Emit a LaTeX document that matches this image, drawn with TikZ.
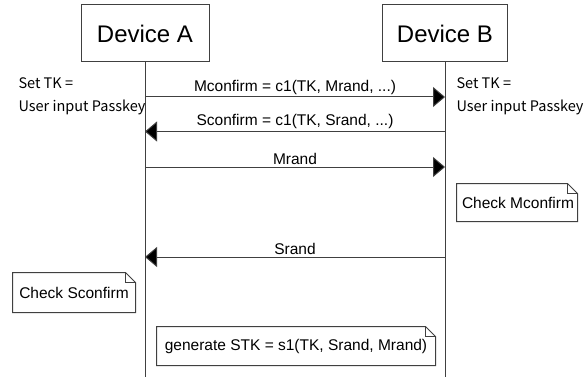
\documentclass[tikz,border=0pt]{standalone}
\usepackage{fontspec}
\setmainfont{Liberation Sans}
\newfontfamily\krfont{Noto Sans CJK KR}
\usetikzlibrary{arrows.meta}
\definecolor{lineclr}{gray}{0.25}
\begin{document}
\begin{tikzpicture}[x=1pt,y=-1pt,
  line width=1pt, draw=lineclr,
  device/.style={draw, minimum width=#1, minimum height=57pt, inner sep=0pt, font=\fontsize{24}{28}\selectfont},
  msg/.style={-{Triangle[length=12pt,width=20pt,fill=black]}},
  msglabel/.style={above, inner sep=2pt, font=\fontsize{15.5}{18}\selectfont},
  notebox/.style={minimum width=#1, minimum height=38pt, inner sep=0pt, font=\fontsize{15.5}{18}\selectfont},
  setnote/.style={anchor=west, inner sep=0pt, font=\krfont\fontsize{14.5}{17}\selectfont}]
\useasboundingbox (0,0) rectangle (585,377);

% participants and lifelines
\node[device=128pt] (A) at (145,33.5) {Device A};
\node[device=125pt] (B) at (445,33.5) {Device B};
\coordinate (Aend) at (145,377);
\coordinate (Bend) at (445,377);
\draw (A.south) -- (Aend);
\draw (B.south) -- (Bend);

% key setup text beside each lifeline
\node[setnote] (sa1) at (18,83) {Set TK =};
\node[setnote] (sa2) at (18,107) {User input Passkey};
\node[setnote] (sb1) at (456,83) {Set TK =};
\node[setnote] (sb2) at (456,107) {User input Passkey};

% message anchor points on the lifelines
\foreach \n/\y in {1/97, 2/131.5, 3/167, 4/257} {
  \coordinate (a\n) at (145,\y);
  \coordinate (b\n) at (445,\y);
}

\draw[msg] (a1) -- node[msglabel] {Mconfirm = c1(TK, Mrand, ...)} (b1);
\draw[msg] (b2) -- node[msglabel] {Sconfirm = c1(TK, Srand, ...)} (a2);
\draw[msg] (a3) -- node[msglabel] {Mrand} (b3);
\draw[msg] (b4) -- node[msglabel] {Srand} (a4);

% notes with folded corner
\node[notebox=120pt, minimum height=37pt] (cm) at (517,202.5) {};
\node[notebox=122pt, minimum height=39pt] (cs) at (74,292.5) {};
\node[notebox=278pt] (stk) at (296,346) {};
\foreach \n in {cm,cs,stk} {
  \draw[fill=white] (\n.south west) -- (\n.north west) -- ([xshift=-10pt]\n.north east)
    -- ([yshift=-10pt]\n.north east) -- (\n.south east) -- cycle;
  \draw ([xshift=-10pt]\n.north east) |- ([yshift=-10pt]\n.north east);
}
\node[notebox=120pt, minimum height=37pt] (cmtext) at (cm) {\hspace*{2pt}Check Mconfirm};
\node[notebox=122pt, minimum height=39pt] (cstext) at (cs) {Check Sconfirm};
\node[notebox=278pt] (stktext) at (stk) {generate STK = s1(TK, Srand, Mrand)};
\end{tikzpicture}
\end{document}
